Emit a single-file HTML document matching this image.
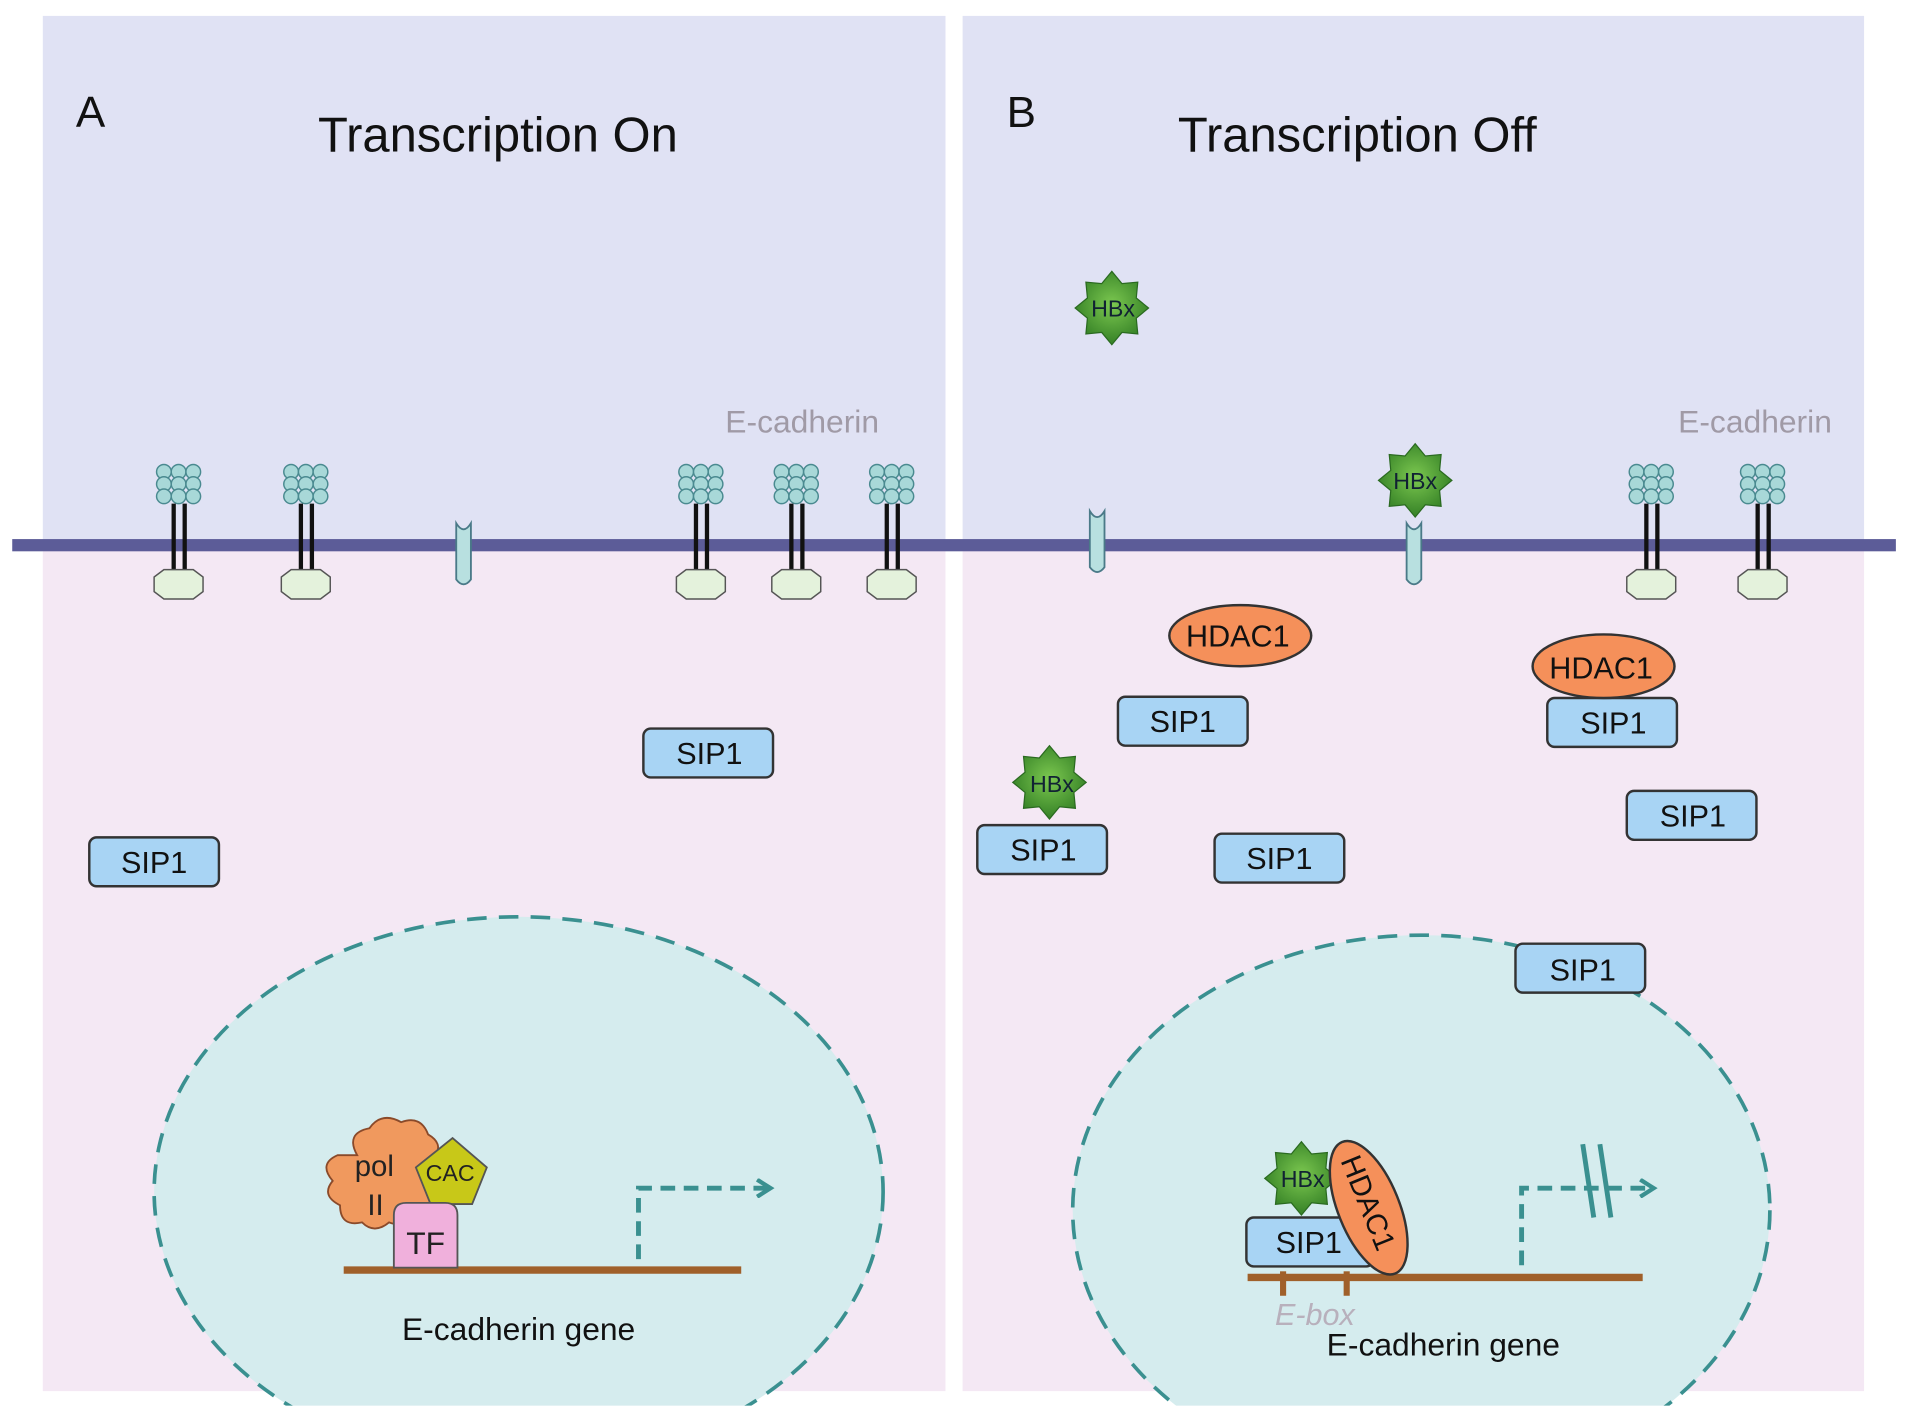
<!DOCTYPE html>
<html><head><meta charset="utf-8"><style>
html,body{margin:0;padding:0;background:#fff}
svg{display:block}
text{font-family:"Liberation Sans",sans-serif}
</style></head><body>
<svg width="1913" height="1418" viewBox="0 0 1564 1160" preserveAspectRatio="none" xmlns="http://www.w3.org/2000/svg">
<defs>
<radialGradient id="hg" cx="50%" cy="45%" r="60%"><stop offset="0" stop-color="#7cc850"/><stop offset="1" stop-color="#2e7a22"/></radialGradient>
<g id="star"><polygon points="30,0 19.96,8.27 21.2,21.2 8.27,19.96 0,30 -8.27,19.96 -21.2,21.2 -19.96,8.27 -30,0 -19.96,-8.27 -21.2,-21.2 -8.27,-19.96 0,-30 8.27,-19.96 21.2,-21.2 19.96,-8.27" fill="url(#hg)" stroke="#2a6a20" stroke-width="1"/></g>
<g id="cad">
<g fill="#a8d8d8" stroke="#4a8a90" stroke-width="1.2">
<circle cx="-12" cy="-58" r="6"/><circle cx="0" cy="-58" r="6"/><circle cx="12" cy="-58" r="6"/>
<circle cx="-12" cy="-48" r="6"/><circle cx="0" cy="-48" r="6"/><circle cx="12" cy="-48" r="6"/>
<circle cx="-12" cy="-38" r="6"/><circle cx="0" cy="-38" r="6"/><circle cx="12" cy="-38" r="6"/>
</g>
<line x1="-4" y1="-32" x2="-4" y2="24" stroke="#111" stroke-width="3.5"/>
<line x1="5" y1="-32" x2="5" y2="24" stroke="#111" stroke-width="3.5"/>
<polygon points="-12,22 12,22 20,28 20,40 12,46 -12,46 -20,40 -20,28" fill="#e4f2dc" stroke="#555" stroke-width="1.2"/>
</g>
<g id="chan"><path d="M-6,-18 L-6,28 Q0,36 6,28 L6,-18 Q0,-8 -6,-18 Z" fill="#b8e0e0" stroke="#4a7a88" stroke-width="1.5"/></g>
<clipPath id="cl"><rect x="0" y="0" width="1564" height="1150"/></clipPath>
<marker id="ar" markerWidth="16" markerHeight="16" refX="10" refY="8" orient="auto" markerUnits="userSpaceOnUse"><path d="M1,1 L12,8 L1,15" fill="none" stroke="#3a9090" stroke-width="3.5"/></marker>
</defs>
<rect x="35" y="13" width="738" height="434" fill="#e0e2f4"/>
<rect x="35" y="447" width="738" height="691" fill="#f4e8f4"/>
<rect x="787" y="13" width="737" height="434" fill="#e0e2f4"/>
<rect x="787" y="447" width="737" height="691" fill="#f4e8f4"/>
<g clip-path="url(#cl)">
<ellipse cx="424" cy="975" rx="298" ry="225" fill="#d5ecee" stroke="#3a9090" stroke-width="3" stroke-dasharray="16,10"/>
<ellipse cx="1162" cy="990" rx="285" ry="225" fill="#d5ecee" stroke="#3a9090" stroke-width="3" stroke-dasharray="16,10"/>
</g>
<rect x="0" y="1150" width="1564" height="10" fill="#fff"/>
<rect x="10" y="441" width="1540" height="10" fill="#5c5c98"/>
<use href="#cad" x="146" y="444"/><use href="#cad" x="250" y="444"/><use href="#cad" x="573" y="444"/><use href="#cad" x="651" y="444"/><use href="#cad" x="729" y="444"/>
<use href="#cad" x="1350" y="444"/><use href="#cad" x="1441" y="444"/>
<use href="#chan" x="379" y="446"/><use href="#chan" x="897" y="436"/><use href="#chan" x="1156" y="446"/>
<text x="62" y="104" font-size="36" fill="#111">A</text>
<text x="260" y="124" font-size="40" fill="#111">Transcription On</text>
<text x="823" y="104" font-size="36" fill="#111">B</text>
<text x="963" y="124" font-size="40" fill="#111">Transcription Off</text>
<text x="593" y="354" font-size="26" fill="#a09aa6">E-cadherin</text>
<text x="1372" y="354" font-size="26" fill="#a09aa6">E-cadherin</text>
<g fill="#a8d4f4" stroke="#333" stroke-width="2">
<rect x="73" y="685" width="106" height="40" rx="6"/><rect x="526" y="596" width="106" height="40" rx="6"/>
<rect x="914" y="570" width="106" height="40" rx="6"/><rect x="1265" y="571" width="106" height="40" rx="6"/>
<rect x="799" y="675" width="106" height="40" rx="6"/><rect x="993" y="682" width="106" height="40" rx="6"/>
<rect x="1330" y="647" width="106" height="40" rx="6"/><rect x="1239" y="772" width="106" height="40" rx="6"/>
</g>
<g font-size="25" fill="#111" text-anchor="middle">
<text x="126" y="714">SIP1</text><text x="580" y="625">SIP1</text>
<text x="967" y="599">SIP1</text><text x="1319" y="600">SIP1</text>
<text x="853" y="704">SIP1</text><text x="1046" y="711">SIP1</text>
<text x="1384" y="676">SIP1</text><text x="1294" y="802">SIP1</text>
</g>
<ellipse cx="1014" cy="520" rx="58" ry="25" fill="#f5905a" stroke="#333" stroke-width="2"/>
<text x="1012" y="529" font-size="25" text-anchor="middle" fill="#111">HDAC1</text>
<ellipse cx="1311" cy="545" rx="58" ry="26" fill="#f5905a" stroke="#333" stroke-width="2"/>
<text x="1309" y="555" font-size="25" text-anchor="middle" fill="#111">HDAC1</text>
<use href="#star" x="909" y="252"/><text x="910" y="259" font-size="19" text-anchor="middle" fill="#123">HBx</text>
<use href="#star" x="1157" y="393"/><text x="1157" y="400" font-size="19" text-anchor="middle" fill="#123">HBx</text>
<use href="#star" x="858" y="640"/><text x="860" y="648" font-size="19" text-anchor="middle" fill="#123">HBx</text>
<line x1="281" y1="1039" x2="606" y2="1039" stroke="#a0602a" stroke-width="6"/>
<path d="M522,1030 L522,972 L628,972" fill="none" stroke="#3a9090" stroke-width="4" stroke-dasharray="12,7" marker-end="url(#ar)"/>
<path d="M292,945 q-10,-18 10,-22 q10,-14 26,-5 q16,-6 22,10 q14,8 4,20 q10,12 -2,22 q6,16 -12,20 q-6,16 -22,10 q-12,10 -22,0 q-18,4 -18,-14 q-16,-8 -6,-20 q-12,-14 4,-21 z" fill="#f0995e" stroke="#8a4a2a" stroke-width="1.5"/>
<polygon points="370,931 398,955 386,985 352,985 340,955" fill="#c8c818" stroke="#555" stroke-width="1.5"/>
<text x="306" y="962" font-size="24" text-anchor="middle" fill="#222">pol</text>
<text x="307" y="994" font-size="24" text-anchor="middle" fill="#222">II</text>
<text x="368" y="966" font-size="19" text-anchor="middle" fill="#222">CAC</text>
<path d="M322,1037 L322,994 Q322,984 332,984 L364,984 Q374,984 374,994 L374,1037 Z" fill="#f0b0dc" stroke="#555" stroke-width="1.5"/>
<text x="348" y="1026" font-size="26" text-anchor="middle" fill="#222">TF</text>
<text x="424" y="1096" font-size="26" text-anchor="middle" fill="#111">E-cadherin gene</text>
<line x1="1020" y1="1045" x2="1343" y2="1045" stroke="#a0602a" stroke-width="6"/>
<line x1="1049" y1="1040" x2="1049" y2="1060" stroke="#a0602a" stroke-width="5"/>
<line x1="1101" y1="1040" x2="1101" y2="1060" stroke="#a0602a" stroke-width="5"/>
<path d="M1244,1035 L1244,972 L1350,972" fill="none" stroke="#3a9090" stroke-width="4" stroke-dasharray="12,7" marker-end="url(#ar)"/>
<line x1="1294" y1="936" x2="1303" y2="996" stroke="#3a9090" stroke-width="4"/>
<line x1="1308" y1="936" x2="1317" y2="996" stroke="#3a9090" stroke-width="4"/>
<rect x="1019" y="996" width="104" height="40" rx="6" fill="#a8d4f4" stroke="#333" stroke-width="2"/>
<text x="1070" y="1025" font-size="25" text-anchor="middle" fill="#111">SIP1</text>
<use href="#star" x="1064" y="964"/><text x="1065" y="971" font-size="19" text-anchor="middle" fill="#123">HBx</text>
<ellipse cx="1119" cy="988" rx="25" ry="58" transform="rotate(-22 1119 988)" fill="#f5905a" stroke="#333" stroke-width="2"/>
<text x="0" y="0" font-size="24" text-anchor="middle" fill="#111" transform="translate(1111,987) rotate(68)">HDAC1</text>
<text x="1075" y="1084" font-size="25" font-style="italic" text-anchor="middle" fill="#b8b0bc">E-box</text>
<text x="1180" y="1109" font-size="26" text-anchor="middle" fill="#111">E-cadherin gene</text>
</svg>
</body></html>
